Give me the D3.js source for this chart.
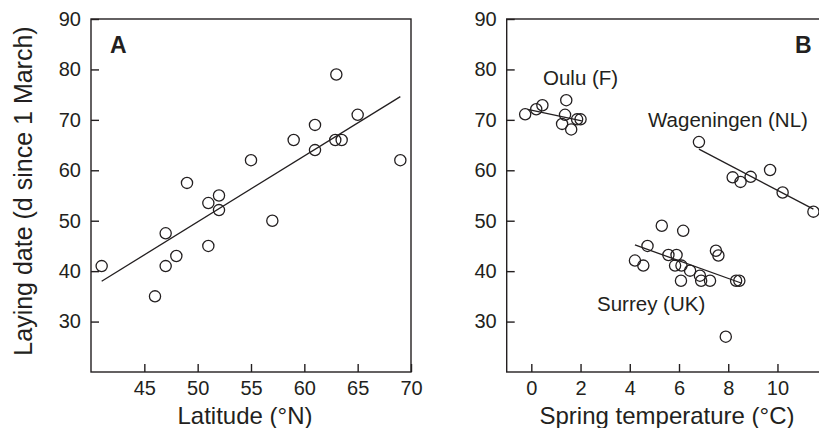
<!DOCTYPE html>
<html><head><meta charset="utf-8">
<script src="https://cdn.jsdelivr.net/npm/d3@7"></script>
<style>
html,body{margin:0;padding:0;background:#fff;}
svg{display:block;font-family:"Liberation Sans",Arial,Helvetica,sans-serif;}
</style></head>
<body><svg id="c" width="819" height="428"></svg>
<script>
// ---- data ----
const latitude = [41,46,47,47,48,49,51,51,52,52,55,57,59,61,61,63,62.9,63.5,65,69];
const layingA  = [41,35,47.5,41,43,57.5,53.5,45,55,52.1,62,50,66,69,64,79,66,66,71,62];
const fitA_x = [41,69], fitA_y = [38,74.6];

const ouluTemp = [-0.25,0.2,0.45,1.42,1.37,1.25,1.62,1.86,2.0];
const ouluDate = [71.1,72.1,72.9,73.9,71,69.2,68.1,70.1,70.1];
const ouluFit_x = [-0.15,2.05], ouluFit_y = [72.1,69.8];

const wagTemp = [6.81,8.18,8.5,8.91,9.7,10.21,11.46];
const wagDate = [65.6,58.6,57.7,58.7,60.05,55.6,51.8];
const wagFit_x = [6.81,11.46], wagFit_y = [64.2,52.3];

const surTemp = [4.21,4.55,4.72,5.3,5.57,5.9,6.17,5.84,6.1,6.08,6.45,6.85,6.9,7.26,7.5,7.6,7.9,8.32,8.45];
const surDate = [42.1,41.1,45,49,43.2,43.2,48,41.1,41.1,38.1,40.1,39.1,38.1,38.1,44.05,43.1,27,38.1,38.1];
const surFit_x = [4.21,8.55], surFit_y = [45.2,37.6];

const yTicks = [30,40,50,60,70,80,90];
const xTicksA = [45,50,55,60,65,70];
const xTicksB = [0,2,4,6,8,10];

// ---- drawing ----
const ink = "#231f20";
const svg = d3.select("#c");
const plotTop = 19, plotBottom = 372;
const y = d3.scaleLinear().domain([20,90]).range([plotBottom, plotTop]);
const xA = d3.scaleLinear().domain([40,70]).range([91,411]);
const xB = d3.scaleLinear().domain([-1,12]).range([506.7,826.7]);

function panel(x, xt, xTitle, titleX, letter, letterX){
  const g = svg.append("g");
  g.append("rect").attr("x", x.range()[0]).attr("y", plotTop)
   .attr("width", x.range()[1]-x.range()[0]).attr("height", plotBottom-plotTop)
   .attr("fill","none").attr("stroke",ink).attr("stroke-width",1.4);
  const ax = g.append("g").attr("transform",`translate(0,${plotBottom})`)
   .call(d3.axisBottom(x).tickValues(xt).tickFormat(d3.format("d")).tickSizeInner(-8).tickSizeOuter(0).tickPadding(9));
  const ay = g.append("g").attr("transform",`translate(${x.range()[0]},0)`)
   .call(d3.axisLeft(y).tickValues(yTicks).tickSizeInner(-8).tickSizeOuter(0).tickPadding(10));
  [ax,ay].forEach(a=>{
    a.select(".domain").remove();
    a.selectAll("line").attr("stroke",ink).attr("stroke-width",1.4);
    a.selectAll("text").attr("fill",ink).style("font-size","20px").style("font-family","'Liberation Sans',Arial,sans-serif");
  });
  g.append("text").attr("x",titleX).attr("y",424).attr("text-anchor","middle")
   .attr("fill",ink).style("font-size","24px").text(xTitle);
  g.append("text").attr("x",letterX).attr("y",53).attr("fill",ink)
   .style("font-size","23px").style("font-weight","bold").text(letter);
  return g;
}
function points(g, x, xs, ys){
  g.selectAll(null).data(xs.map((v,i)=>[v,ys[i]])).enter().append("circle")
   .attr("cx",d=>x(d[0])).attr("cy",d=>y(d[1])).attr("r",5.6)
   .attr("fill","none").attr("stroke",ink).attr("stroke-width",1.3);
}
function fit(g, x, fx, fy){
  g.append("path").attr("d", d3.line().x(d=>x(d[0])).y(d=>y(d[1]))(fx.map((v,i)=>[v,fy[i]])))
   .attr("stroke",ink).attr("stroke-width",1.3).attr("fill","none");
}

const gA = panel(xA, xTicksA, "Latitude (°N)", 245, "A", 110);
fit(gA, xA, fitA_x, fitA_y);
points(gA, xA, latitude, layingA);

const gB = panel(xB, xTicksB, "Spring temperature (°C)", 667, "B", 795);
fit(gB, xB, ouluFit_x, ouluFit_y);
fit(gB, xB, wagFit_x, wagFit_y);
fit(gB, xB, surFit_x, surFit_y);
points(gB, xB, ouluTemp, ouluDate);
points(gB, xB, wagTemp, wagDate);
points(gB, xB, surTemp, surDate);

const labels = [["Oulu (F)",543,85],["Wageningen (NL)",648,127],["Surrey (UK)",597,311]];
labels.forEach(l=>{
  gB.append("text").attr("x",l[1]).attr("y",l[2]).attr("fill",ink)
   .style("font-size","20.5px").text(l[0]);
});

svg.append("text").attr("transform","translate(32,191) rotate(-90)")
  .attr("text-anchor","middle").attr("fill",ink).style("font-size","25px")
  .text("Laying date (d since 1 March)");
</script>
</body></html>
